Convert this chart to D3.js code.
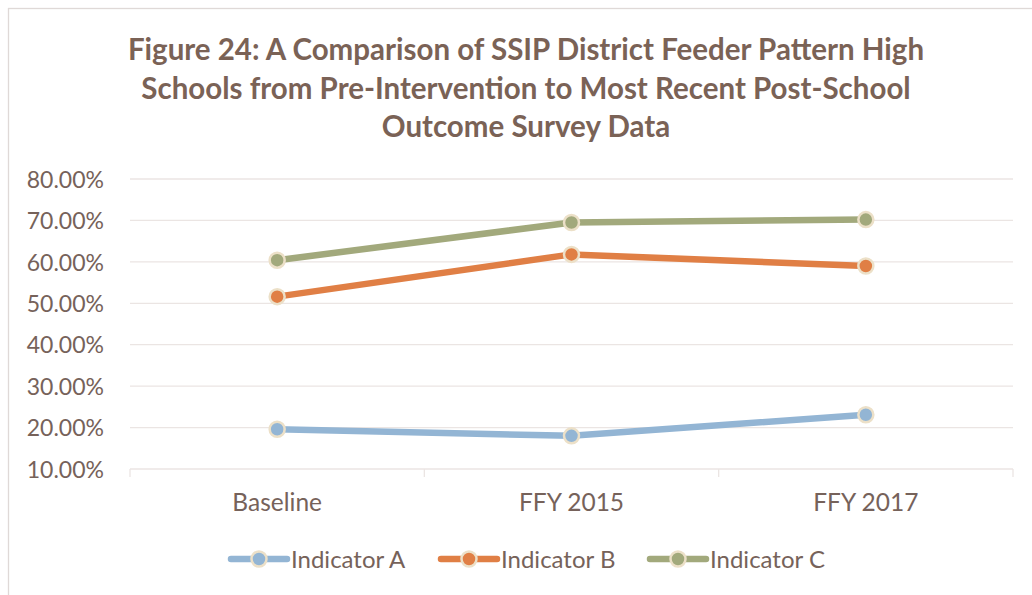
<!DOCTYPE html>
<html>
<head>
<meta charset="utf-8">
<script src="https://cdn.jsdelivr.net/npm/d3@7"></script>
<style>
  body { margin: 0; background: #fff; }
  svg { display: block; font-family: Lato, "Open Sans", sans-serif; }
</style>
</head>
<body>
<div class="graphContainer"></div>
<script>
var width = 1032;
var height = 595;

// data
var categories = ["Baseline", "FFY 2015", "FFY 2017"];
var seriesNames = ["Indicator A", "Indicator B", "Indicator C"];
var indicatorA = [19.6, 18.0, 23.1];
var indicatorB = [51.6, 61.8, 59.0];
var indicatorC = [60.4, 69.5, 70.2];
var yTicks = [10, 20, 30, 40, 50, 60, 70, 80];
var titleLines = [
  "Figure 24: A Comparison of SSIP District Feeder Pattern High",
  "Schools from Pre-Intervention to Most Recent Post-School",
  "Outcome Survey Data"
];

var colors = ["#93b5d4", "#e07f45", "#a2a97c"];
var textColor = "#76625a";
var gridColor = "#ebe5e3";

var series = [indicatorA, indicatorB, indicatorC].map(function (vals, i) {
  return {
    name: seriesNames[i],
    color: colors[i],
    values: vals.map(function (v, j) { return { cat: categories[j], value: v }; })
  };
});

var svg = d3
  .select(".graphContainer")
  .append("svg")
  .attr("width", width)
  .attr("height", height);

// chart frame (cut off on the right and bottom)
svg.append("rect")
  .attr("x", 8.5).attr("y", 8.5)
  .attr("width", width + 20).attr("height", height + 20)
  .attr("fill", "none")
  .attr("stroke", "#dfd9d7")
  .attr("stroke-width", 1.3);

// title
svg.append("g")
  .selectAll("text")
  .data(titleLines)
  .enter()
  .append("text")
  .attr("x", 526)
  .attr("y", (d, i) => 60 + i * 38.5)
  .attr("text-anchor", "middle")
  .style("font-size", "29.5px")
  .style("font-weight", "bold")
  .style("fill", "#7a6256")
  .text((d) => d);

// scales
var xScale = d3.scaleBand().domain(categories).range([130, 1013]);
var yScale = d3.scaleLinear().domain([10, 80]).range([469, 179]);

// gridlines
svg.append("g")
  .selectAll("line")
  .data(yTicks.slice(1))
  .enter()
  .append("line")
  .attr("x1", 130).attr("x2", 1013)
  .attr("y1", (d) => yScale(d)).attr("y2", (d) => yScale(d))
  .attr("stroke", gridColor)
  .attr("stroke-width", 1.3);

// y axis
var yAxis = d3.axisLeft(yScale)
  .tickValues(yTicks)
  .tickFormat((d) => d.toFixed(2) + "%")
  .tickSize(0)
  .tickPadding(26);

var yAxisGroup = svg.append("g")
  .attr("transform", "translate(130,0)")
  .call(yAxis);
yAxisGroup.select(".domain").remove();
yAxisGroup.selectAll("text")
  .attr("dy", "0.36em")
  .style("font-size", "23px")
  .style("font-family", "Lato, sans-serif")
  .style("fill", textColor);

// x axis
var xAxisGroup = svg.append("g")
  .attr("transform", "translate(0,469)")
  .call(d3.axisBottom(xScale).tickSize(0).tickPadding(33));
xAxisGroup.select(".domain")
  .attr("stroke", gridColor)
  .attr("stroke-width", 1.3)
  .attr("d", "M130,0H1013");
xAxisGroup.selectAll("text")
  .attr("dy", "0.36em")
  .style("font-size", "24.5px")
  .style("font-family", "Lato, sans-serif")
  .style("fill", textColor);

// band boundary ticks
var boundaries = categories.map((c) => xScale(c)).concat([xScale.range()[1]]);
xAxisGroup.selectAll(".bound")
  .data(boundaries)
  .enter()
  .append("line")
  .attr("class", "bound")
  .attr("x1", (d) => d).attr("x2", (d) => d)
  .attr("y1", 0).attr("y2", 8)
  .attr("stroke", gridColor)
  .attr("stroke-width", 1.3);

// lines
var line = d3.line()
  .x((d) => xScale(d.cat) + xScale.bandwidth() / 2)
  .y((d) => yScale(d.value));

var seriesGroups = svg.append("g")
  .selectAll("g")
  .data(series)
  .enter()
  .append("g");

seriesGroups.append("path")
  .attr("d", (d) => line(d.values))
  .attr("fill", "none")
  .attr("stroke", (d) => d.color)
  .attr("stroke-width", 6.5)
  .attr("stroke-linejoin", "round");

seriesGroups.selectAll("circle")
  .data((d) => d.values.map((v) => ({ value: v.value, cat: v.cat, color: d.color })))
  .enter()
  .append("circle")
  .attr("cx", (d) => xScale(d.cat) + xScale.bandwidth() / 2)
  .attr("cy", (d) => yScale(d.value))
  .attr("r", 7.5)
  .style("fill", (d) => d.color)
  .style("stroke", "#ece0c8")
  .style("stroke-width", 2.5);

// legend
var legendX = [231, 441, 650];
var legend = svg.append("g")
  .selectAll("g")
  .data(series)
  .enter()
  .append("g")
  .attr("transform", (d, i) => "translate(" + legendX[i] + ",559)");

legend.append("line")
  .attr("x1", 0).attr("x2", 56)
  .attr("stroke", (d) => d.color)
  .attr("stroke-width", 6.5)
  .attr("stroke-linecap", "round");
legend.append("circle")
  .attr("cx", 28)
  .attr("r", 7.5)
  .style("fill", (d) => d.color)
  .style("stroke", "#ece0c8")
  .style("stroke-width", 2.5);
legend.append("text")
  .attr("x", 60)
  .attr("y", 0)
  .attr("dy", "0.36em")
  .style("font-size", "24px")
  .style("fill", textColor)
  .text((d) => d.name);
</script>
</body>
</html>
